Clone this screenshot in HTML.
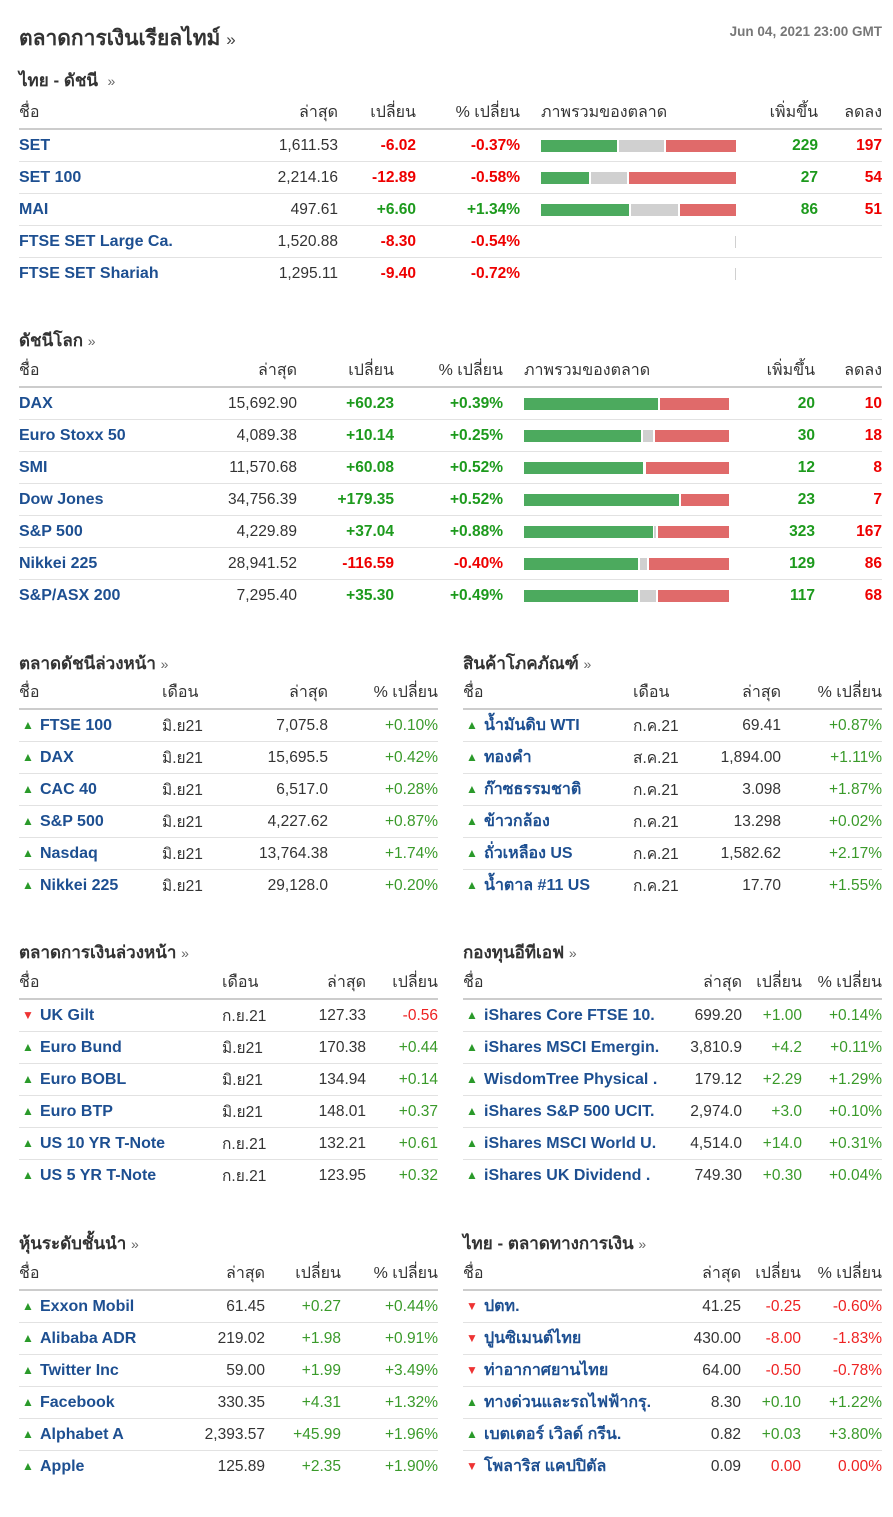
<!DOCTYPE html>
<html><head><meta charset="utf-8">
<style>
body{margin:0;width:893px;height:1517px;background:#fff;font-family:"Liberation Sans","DejaVu Sans",sans-serif;color:#333;position:relative;overflow:hidden}
.t{position:absolute;font-weight:bold;color:#333;white-space:nowrap}
.t span{font-size:14px;color:#666;font-weight:normal}
table{position:absolute;border-collapse:collapse;table-layout:fixed;font-size:15.5px}
th{font-weight:normal;height:31px;border-bottom:2px solid #ccc;color:#333;white-space:nowrap;padding:0;font-size:16px}
td{height:31px;border-bottom:1px solid #e2e2e2;padding:0;white-space:nowrap;overflow:hidden}
tr:last-child td{border-bottom:none}
.l{text-align:left}.r{text-align:right}
.n{color:#1d4f91;font-weight:bold;font-size:16px}
.rd{color:#e00;font-weight:bold}.gr{color:#1d9a1d;font-weight:bold}
.rl{color:#e22}.gl{color:#3a9a2a}
.bar{display:flex;height:12px;align-items:stretch}
.bar i{display:block;height:12px}
.g{background:#4caa5e}.s{background:#d0d0d0}.x{background:#e06a6a}
.up,.dn{display:inline-block;width:18px;margin-left:3px;font-size:12px;vertical-align:1px}
.up{color:#2a9a2a}.dn{color:#e33}
</style></head><body>
<div class="t" style="left:19px;top:22px;font-size:21px">ตลาดการเงินเรียลไทม์ <span style="font-size:17px;color:#444">»</span></div>
<div style="position:absolute;right:11px;top:24px;font-size:13.5px;color:#777;font-weight:bold">Jun 04, 2021 23:00 GMT</div>

<div class="t" style="left:19px;top:67px;font-size:17px">ไทย - ดัชนี &nbsp;<span>»</span></div>
<table style="left:19px;top:97px;width:863px">
<colgroup><col style="width:221px"><col style="width:98px"><col style="width:78px"><col style="width:104px"><col style="width:216px"><col style="width:82px"><col style="width:64px"></colgroup>
<tr><th class="l">ชื่อ</th><th class="r">ล่าสุด</th><th class="r">เปลี่ยน</th><th class="r">% เปลี่ยน</th><th class="l" style="padding-left:21px">ภาพรวมของตลาด</th><th class="r">เพิ่มขึ้น</th><th class="r">ลดลง</th></tr>
<tr><td class="n">SET</td><td class="r">1,611.53</td><td class="r rd">-6.02</td><td class="r rd">-0.37%</td><td style="padding-left:21px"><div class="bar"><i class="g" style="width:76px"></i><i style="width:2px"></i><i class="s" style="width:45px"></i><i style="width:2px"></i><i class="x" style="width:70px"></i></div></td><td class="r gr">229</td><td class="r rd">197</td></tr>
<tr><td class="n">SET 100</td><td class="r">2,214.16</td><td class="r rd">-12.89</td><td class="r rd">-0.58%</td><td style="padding-left:21px"><div class="bar"><i class="g" style="width:48px"></i><i style="width:2px"></i><i class="s" style="width:36px"></i><i style="width:2px"></i><i class="x" style="width:107px"></i></div></td><td class="r gr">27</td><td class="r rd">54</td></tr>
<tr><td class="n">MAI</td><td class="r">497.61</td><td class="r gr">+6.60</td><td class="r gr">+1.34%</td><td style="padding-left:21px"><div class="bar"><i class="g" style="width:88px"></i><i style="width:2px"></i><i class="s" style="width:47px"></i><i style="width:2px"></i><i class="x" style="width:56px"></i></div></td><td class="r gr">86</td><td class="r rd">51</td></tr>
<tr><td class="n">FTSE SET Large Ca.</td><td class="r">1,520.88</td><td class="r rd">-8.30</td><td class="r rd">-0.54%</td><td style="padding-left:21px"><div class="bar"><i style="width:194px"></i><i class="s" style="width:1px"></i></div></td><td></td><td></td></tr>
<tr><td class="n">FTSE SET Shariah</td><td class="r">1,295.11</td><td class="r rd">-9.40</td><td class="r rd">-0.72%</td><td style="padding-left:21px"><div class="bar"><i style="width:194px"></i><i class="s" style="width:1px"></i></div></td><td></td><td></td></tr>
</table>

<div class="t" style="left:19px;top:327px;font-size:17px">ดัชนีโลก <span>»</span></div>
<table style="left:19px;top:355px;width:863px">
<colgroup><col style="width:181px"><col style="width:97px"><col style="width:97px"><col style="width:109px"><col style="width:226px"><col style="width:86px"><col style="width:67px"></colgroup>
<tr><th class="l">ชื่อ</th><th class="r">ล่าสุด</th><th class="r">เปลี่ยน</th><th class="r">% เปลี่ยน</th><th class="l" style="padding-left:21px">ภาพรวมของตลาด</th><th class="r">เพิ่มขึ้น</th><th class="r">ลดลง</th></tr>
<tr><td class="n">DAX</td><td class="r">15,692.90</td><td class="r gr">+60.23</td><td class="r gr">+0.39%</td><td style="padding-left:21px"><div class="bar"><i class="g" style="width:134px"></i><i style="width:2px"></i><i class="x" style="width:69px"></i></div></td><td class="r gr">20</td><td class="r rd">10</td></tr>
<tr><td class="n">Euro Stoxx 50</td><td class="r">4,089.38</td><td class="r gr">+10.14</td><td class="r gr">+0.25%</td><td style="padding-left:21px"><div class="bar"><i class="g" style="width:117px"></i><i style="width:2px"></i><i class="s" style="width:10px"></i><i style="width:2px"></i><i class="x" style="width:74px"></i></div></td><td class="r gr">30</td><td class="r rd">18</td></tr>
<tr><td class="n">SMI</td><td class="r">11,570.68</td><td class="r gr">+60.08</td><td class="r gr">+0.52%</td><td style="padding-left:21px"><div class="bar"><i class="g" style="width:119px"></i><i style="width:3px"></i><i class="x" style="width:83px"></i></div></td><td class="r gr">12</td><td class="r rd">8</td></tr>
<tr><td class="n">Dow Jones</td><td class="r">34,756.39</td><td class="r gr">+179.35</td><td class="r gr">+0.52%</td><td style="padding-left:21px"><div class="bar"><i class="g" style="width:155px"></i><i style="width:2px"></i><i class="x" style="width:48px"></i></div></td><td class="r gr">23</td><td class="r rd">7</td></tr>
<tr><td class="n">S&amp;P 500</td><td class="r">4,229.89</td><td class="r gr">+37.04</td><td class="r gr">+0.88%</td><td style="padding-left:21px"><div class="bar"><i class="g" style="width:129px"></i><i style="width:1px"></i><i class="s" style="width:2px"></i><i style="width:2px"></i><i class="x" style="width:71px"></i></div></td><td class="r gr">323</td><td class="r rd">167</td></tr>
<tr><td class="n">Nikkei 225</td><td class="r">28,941.52</td><td class="r rd">-116.59</td><td class="r rd">-0.40%</td><td style="padding-left:21px"><div class="bar"><i class="g" style="width:114px"></i><i style="width:2px"></i><i class="s" style="width:7px"></i><i style="width:2px"></i><i class="x" style="width:80px"></i></div></td><td class="r gr">129</td><td class="r rd">86</td></tr>
<tr><td class="n">S&amp;P/ASX 200</td><td class="r">7,295.40</td><td class="r gr">+35.30</td><td class="r gr">+0.49%</td><td style="padding-left:21px"><div class="bar"><i class="g" style="width:114px"></i><i style="width:2px"></i><i class="s" style="width:16px"></i><i style="width:2px"></i><i class="x" style="width:71px"></i></div></td><td class="r gr">117</td><td class="r rd">68</td></tr>
</table>

<!-- Section 3 -->
<div class="t" style="left:19px;top:650px;font-size:17px">ตลาดดัชนีล่วงหน้า <span>»</span></div>
<table style="left:19px;top:677px;width:419px">
<colgroup><col style="width:143px"><col style="width:88px"><col style="width:78px"><col style="width:110px"></colgroup>
<tr><th class="l">ชื่อ</th><th class="l">เดือน</th><th class="r">ล่าสุด</th><th class="r">% เปลี่ยน</th></tr>
<tr><td class="n"><span class="up">▲</span>FTSE 100</td><td>มิ.ย21</td><td class="r">7,075.8</td><td class="r gl">+0.10%</td></tr>
<tr><td class="n"><span class="up">▲</span>DAX</td><td>มิ.ย21</td><td class="r">15,695.5</td><td class="r gl">+0.42%</td></tr>
<tr><td class="n"><span class="up">▲</span>CAC 40</td><td>มิ.ย21</td><td class="r">6,517.0</td><td class="r gl">+0.28%</td></tr>
<tr><td class="n"><span class="up">▲</span>S&amp;P 500</td><td>มิ.ย21</td><td class="r">4,227.62</td><td class="r gl">+0.87%</td></tr>
<tr><td class="n"><span class="up">▲</span>Nasdaq</td><td>มิ.ย21</td><td class="r">13,764.38</td><td class="r gl">+1.74%</td></tr>
<tr><td class="n"><span class="up">▲</span>Nikkei 225</td><td>มิ.ย21</td><td class="r">29,128.0</td><td class="r gl">+0.20%</td></tr>
</table>
<div class="t" style="left:463px;top:650px;font-size:17px">สินค้าโภคภัณฑ์ <span>»</span></div>
<table style="left:463px;top:677px;width:419px">
<colgroup><col style="width:170px"><col style="width:67px"><col style="width:81px"><col style="width:101px"></colgroup>
<tr><th class="l">ชื่อ</th><th class="l">เดือน</th><th class="r">ล่าสุด</th><th class="r">% เปลี่ยน</th></tr>
<tr><td class="n"><span class="up">▲</span>น้ำมันดิบ WTI</td><td>ก.ค.21</td><td class="r">69.41</td><td class="r gl">+0.87%</td></tr>
<tr><td class="n"><span class="up">▲</span>ทองคำ</td><td>ส.ค.21</td><td class="r">1,894.00</td><td class="r gl">+1.11%</td></tr>
<tr><td class="n"><span class="up">▲</span>ก๊าซธรรมชาติ</td><td>ก.ค.21</td><td class="r">3.098</td><td class="r gl">+1.87%</td></tr>
<tr><td class="n"><span class="up">▲</span>ข้าวกล้อง</td><td>ก.ค.21</td><td class="r">13.298</td><td class="r gl">+0.02%</td></tr>
<tr><td class="n"><span class="up">▲</span>ถั่วเหลือง US</td><td>ก.ค.21</td><td class="r">1,582.62</td><td class="r gl">+2.17%</td></tr>
<tr><td class="n"><span class="up">▲</span>น้ำตาล #11 US</td><td>ก.ค.21</td><td class="r">17.70</td><td class="r gl">+1.55%</td></tr>
</table>

<!-- Section 4 -->
<div class="t" style="left:19px;top:939px;font-size:17px">ตลาดการเงินล่วงหน้า <span>»</span></div>
<table style="left:19px;top:967px;width:419px">
<colgroup><col style="width:203px"><col style="width:68px"><col style="width:76px"><col style="width:72px"></colgroup>
<tr><th class="l">ชื่อ</th><th class="l">เดือน</th><th class="r">ล่าสุด</th><th class="r">เปลี่ยน</th></tr>
<tr><td class="n"><span class="dn">▼</span>UK Gilt</td><td>ก.ย.21</td><td class="r">127.33</td><td class="r rl">-0.56</td></tr>
<tr><td class="n"><span class="up">▲</span>Euro Bund</td><td>มิ.ย21</td><td class="r">170.38</td><td class="r gl">+0.44</td></tr>
<tr><td class="n"><span class="up">▲</span>Euro BOBL</td><td>มิ.ย21</td><td class="r">134.94</td><td class="r gl">+0.14</td></tr>
<tr><td class="n"><span class="up">▲</span>Euro BTP</td><td>มิ.ย21</td><td class="r">148.01</td><td class="r gl">+0.37</td></tr>
<tr><td class="n"><span class="up">▲</span>US 10 YR T-Note</td><td>ก.ย.21</td><td class="r">132.21</td><td class="r gl">+0.61</td></tr>
<tr><td class="n"><span class="up">▲</span>US 5 YR T-Note</td><td>ก.ย.21</td><td class="r">123.95</td><td class="r gl">+0.32</td></tr>
</table>
<div class="t" style="left:463px;top:939px;font-size:17px">กองทุนอีทีเอฟ <span>»</span></div>
<table style="left:463px;top:967px;width:419px">
<colgroup><col style="width:199px"><col style="width:80px"><col style="width:60px"><col style="width:80px"></colgroup>
<tr><th class="l">ชื่อ</th><th class="r">ล่าสุด</th><th class="r">เปลี่ยน</th><th class="r">% เปลี่ยน</th></tr>
<tr><td class="n"><span class="up">▲</span>iShares Core FTSE 10.</td><td class="r">699.20</td><td class="r gl">+1.00</td><td class="r gl">+0.14%</td></tr>
<tr><td class="n"><span class="up">▲</span>iShares MSCI Emergin.</td><td class="r">3,810.9</td><td class="r gl">+4.2</td><td class="r gl">+0.11%</td></tr>
<tr><td class="n"><span class="up">▲</span>WisdomTree Physical .</td><td class="r">179.12</td><td class="r gl">+2.29</td><td class="r gl">+1.29%</td></tr>
<tr><td class="n"><span class="up">▲</span>iShares S&amp;P 500 UCIT.</td><td class="r">2,974.0</td><td class="r gl">+3.0</td><td class="r gl">+0.10%</td></tr>
<tr><td class="n"><span class="up">▲</span>iShares MSCI World U.</td><td class="r">4,514.0</td><td class="r gl">+14.0</td><td class="r gl">+0.31%</td></tr>
<tr><td class="n"><span class="up">▲</span>iShares UK Dividend .</td><td class="r">749.30</td><td class="r gl">+0.30</td><td class="r gl">+0.04%</td></tr>
</table>

<!-- Section 5 -->
<div class="t" style="left:19px;top:1230px;font-size:17px">หุ้นระดับชั้นนำ <span>»</span></div>
<table style="left:19px;top:1258px;width:419px">
<colgroup><col style="width:181px"><col style="width:65px"><col style="width:76px"><col style="width:97px"></colgroup>
<tr><th class="l">ชื่อ</th><th class="r">ล่าสุด</th><th class="r">เปลี่ยน</th><th class="r">% เปลี่ยน</th></tr>
<tr><td class="n"><span class="up">▲</span>Exxon Mobil</td><td class="r">61.45</td><td class="r gl">+0.27</td><td class="r gl">+0.44%</td></tr>
<tr><td class="n"><span class="up">▲</span>Alibaba ADR</td><td class="r">219.02</td><td class="r gl">+1.98</td><td class="r gl">+0.91%</td></tr>
<tr><td class="n"><span class="up">▲</span>Twitter Inc</td><td class="r">59.00</td><td class="r gl">+1.99</td><td class="r gl">+3.49%</td></tr>
<tr><td class="n"><span class="up">▲</span>Facebook</td><td class="r">330.35</td><td class="r gl">+4.31</td><td class="r gl">+1.32%</td></tr>
<tr><td class="n"><span class="up">▲</span>Alphabet A</td><td class="r">2,393.57</td><td class="r gl">+45.99</td><td class="r gl">+1.96%</td></tr>
<tr><td class="n"><span class="up">▲</span>Apple</td><td class="r">125.89</td><td class="r gl">+2.35</td><td class="r gl">+1.90%</td></tr>
</table>
<div class="t" style="left:463px;top:1230px;font-size:17px">ไทย - ตลาดทางการเงิน <span>»</span></div>
<table style="left:463px;top:1258px;width:419px">
<colgroup><col style="width:197px"><col style="width:81px"><col style="width:60px"><col style="width:81px"></colgroup>
<tr><th class="l">ชื่อ</th><th class="r">ล่าสุด</th><th class="r">เปลี่ยน</th><th class="r">% เปลี่ยน</th></tr>
<tr><td class="n"><span class="dn">▼</span>ปตท.</td><td class="r">41.25</td><td class="r rl">-0.25</td><td class="r rl">-0.60%</td></tr>
<tr><td class="n"><span class="dn">▼</span>ปูนซิเมนต์ไทย</td><td class="r">430.00</td><td class="r rl">-8.00</td><td class="r rl">-1.83%</td></tr>
<tr><td class="n"><span class="dn">▼</span>ท่าอากาศยานไทย</td><td class="r">64.00</td><td class="r rl">-0.50</td><td class="r rl">-0.78%</td></tr>
<tr><td class="n"><span class="up">▲</span>ทางด่วนและรถไฟฟ้ากรุ.</td><td class="r">8.30</td><td class="r gl">+0.10</td><td class="r gl">+1.22%</td></tr>
<tr><td class="n"><span class="up">▲</span>เบตเตอร์ เวิลด์ กรีน.</td><td class="r">0.82</td><td class="r gl">+0.03</td><td class="r gl">+3.80%</td></tr>
<tr><td class="n"><span class="dn">▼</span>โพลาริส แคปปิตัล</td><td class="r">0.09</td><td class="r rl">0.00</td><td class="r rl">0.00%</td></tr>
</table>
</body></html>
